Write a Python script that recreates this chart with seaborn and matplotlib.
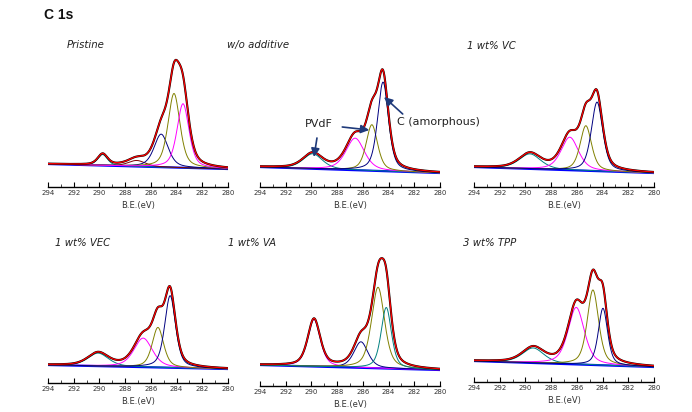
import numpy as np
import pandas as pd
import matplotlib
matplotlib.use("Agg")
import matplotlib.pyplot as plt
import seaborn as sns

sns.set_style("white")
plt.rcParams["font.family"] = ["DejaVu Sans"]

# ---------------- data ----------------
main_title = "C 1s"
panel_titles = ["Pristine", "w/o additive", "1 wt% VC", "1 wt% VEC", "1 wt% VA", "3 wt% TPP"]
x_label = "B.E.(eV)"
be_range = (294.0, 280.0)
be_ticks = [294, 292, 290, 288, 286, 284, 282, 280]

# linear background change across the window (left end = 0)
bg_right = [-5, -6, -6, -4, -5, -6]

TEAL, MAROON, NAVY, OLIVE, MAGENTA = "#008080", "#800000", "#000080", "#808000", "#ff00ff"

pristine_centers = [289.75, 287.1, 285.2, 284.2, 283.5]
pristine_heights = [11, 6, 33, 74, 64]
pristine_fwhm = [0.9, 1.6, 1.3, 1.1, 1.1]
pristine_colors = [TEAL, MAROON, NAVY, OLIVE, MAGENTA]

wo_centers = [289.9, 286.6, 285.3, 284.43]
wo_heights = [15, 32, 46, 89]
wo_fwhm = [1.8, 1.7, 1.05, 1.0]
wo_colors = [TEAL, MAGENTA, OLIVE, NAVY]

vc_centers = [289.65, 286.55, 285.3, 284.43]
vc_heights = [15, 33, 45, 69]
vc_fwhm = [2.0, 1.6, 1.05, 1.05]
vc_colors = [TEAL, MAGENTA, OLIVE, NAVY]

vec_centers = [290.1, 286.6, 285.45, 284.5]
vec_heights = [13, 29, 40, 72]
vec_fwhm = [1.9, 1.7, 1.05, 1.0]
vec_colors = [TEAL, MAGENTA, OLIVE, NAVY]

va_centers = [289.8, 286.15, 284.82, 284.18]
va_heights = [47, 26, 81, 61]
va_fwhm = [1.15, 1.3, 1.2, 0.95]
va_colors = [MAGENTA, NAVY, OLIVE, TEAL]

tpp_centers = [289.4, 286.05, 284.75, 283.97]
tpp_heights = [15, 57, 75, 57]
tpp_fwhm = [2.0, 1.5, 1.05, 0.85]
tpp_colors = [TEAL, MAGENTA, OLIVE, NAVY]

panels = [
    (pristine_centers, pristine_heights, pristine_fwhm, pristine_colors),
    (wo_centers, wo_heights, wo_fwhm, wo_colors),
    (vc_centers, vc_heights, vc_fwhm, vc_colors),
    (vec_centers, vec_heights, vec_fwhm, vec_colors),
    (va_centers, va_heights, va_fwhm, va_colors),
    (tpp_centers, tpp_heights, tpp_fwhm, tpp_colors),
]

# annotation targets in the "w/o additive" panel (eV, intensity)
pvdf_label = "PVdF"
pvdf_targets = [(289.8, 10), (285.5, 37)]
amorph_label = "C (amorphous)"
amorph_target = (284.35, 70)

# ---------------- layout ----------------
W, H = 692, 412
left_px = [48, 260, 474, 48, 260, 474]
axis_px = [187, 187, 187, 383, 386, 382]
base_px = [164, 167, 167, 365, 365, 361]
title_pos = [(67, 45), (227, 45), (467, 46), (55, 243), (228, 243), (463, 243)]
AX_W, AX_H = 180, 140
GL_MIX = 0.5

fig = plt.figure(figsize=(W / 100, H / 100), dpi=100)
fig.text(44 / W, 1 - 15 / H, main_title, family="Liberation Sans", weight="bold",
         fontsize=10, va="center", ha="left", color="#111111")

be = np.linspace(be_range[0], be_range[1], 561)


def peak(x, c, h, w):
    d = ((x - c) / w) ** 2
    return h * ((1 - GL_MIX) * np.exp(-4 * np.log(2) * d) + GL_MIX / (1 + 4 * d))


axes = []
for i, (centers, heights, fwhms, colors) in enumerate(panels):
    ax = fig.add_axes([left_px[i] / W, (H - axis_px[i]) / H, AX_W / W, AX_H / H])
    ax.patch.set_alpha(0)
    bg = bg_right[i] * (be_range[0] - be) / (be_range[0] - be_range[1])
    comps = [peak(be, c, h, w) for c, h, w in zip(centers, heights, fwhms)]
    env = bg + np.sum(comps, axis=0)

    sns.lineplot(x=be, y=bg, ax=ax, color="#0000ff", linewidth=1.6, sort=False)
    for comp, col in zip(comps, colors):
        sns.lineplot(x=be, y=bg + comp, ax=ax, color=col, linewidth=0.7, sort=False)
    sns.lineplot(x=be, y=env, ax=ax, color="#000000", linewidth=1.5, sort=False)
    sns.lineplot(x=be, y=env, ax=ax, color="#ff0000", linewidth=0.9, sort=False)

    ymin = -(axis_px[i] - base_px[i])
    ax.set_ylim(ymin, ymin + AX_H)
    ax.set_xlim(*be_range)
    for s in ["top", "left", "right"]:
        ax.spines[s].set_visible(False)
    ax.spines["bottom"].set_linewidth(1.0)
    ax.spines["bottom"].set_color("#000000")
    ax.set_yticks([])
    ax.set_xticks(be_ticks)
    ax.set_xticks(np.arange(281, 294, 2), minor=True)
    ax.tick_params(axis="x", which="major", direction="in", length=3.5, width=0.8,
                   labelsize=5, pad=2, colors="#000000", labelcolor="#333333", bottom=True)
    ax.tick_params(axis="x", which="minor", direction="in", length=2, width=0.6, bottom=True)
    ax.set_xlabel(x_label, fontsize=6, labelpad=4, color="#333333")
    ax.set_ylabel("")
    axes.append(ax)
    fig.text(title_pos[i][0] / W, 1 - title_pos[i][1] / H, panel_titles[i],
             style="italic", fontsize=7.3, va="center", ha="left", color="#222222")

# annotations in panel 2
ax2 = axes[1]
arrow_kw = dict(arrowstyle="-|>,head_length=0.5,head_width=0.25", color="#1f3a7a", lw=1.2,
                shrinkA=0, shrinkB=0)
ax2.annotate("", xy=pvdf_targets[0], xytext=(289.57, 29), arrowprops=arrow_kw)
ax2.annotate("", xy=pvdf_targets[1], xytext=(287.6, 40), arrowprops=arrow_kw)
ax2.annotate("", xy=amorph_target, xytext=(282.9, 53), arrowprops=arrow_kw)
ax2.text(289.4, 43, pvdf_label, fontsize=8, ha="center", va="center", color="#222222")
ax2.text(283.35, 45, amorph_label, fontsize=8, ha="left", va="center", color="#222222")

fig.savefig("out.png", dpi=100)
